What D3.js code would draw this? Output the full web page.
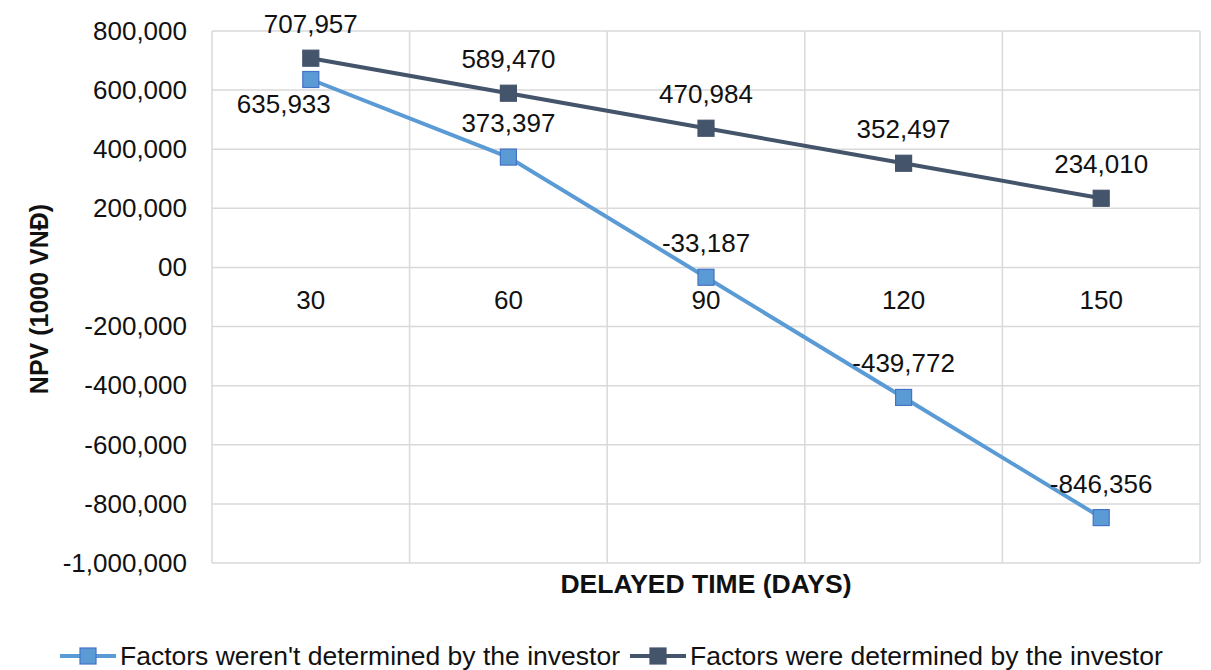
<!DOCTYPE html>
<html>
<head>
<meta charset="utf-8">
<script src="https://cdn.jsdelivr.net/npm/d3@7"></script>
<style>
  html, body { margin: 0; padding: 0; background: #fff; }
  svg { display: block; font-family: "Liberation Sans", Arial, sans-serif; }
</style>
</head>
<body>
<svg id="chart" width="1211" height="670"></svg>
<script>
// Delay in days
const categories = ["30", "60", "90", "120", "150"];
// NPV (1000 VNĐ)
const notDetermined = [635933, 373397, -33187, -439772, -846356];
const determined = [707957, 589470, 470984, 352497, 234010];
const seriesNames = [
  "Factors weren't determined by the investor",
  "Factors were determined by the investor"
];
const yTickValues = [800000, 600000, 400000, 200000, 0, -200000, -400000, -600000, -800000, -1000000];
const yTickLabels = ["800,000", "600,000", "400,000", "200,000", "00", "-200,000", "-400,000", "-600,000", "-800,000", "-1,000,000"];

const svg = d3.select("#chart");
const plot = { left: 212, right: 1200, top: 31, bottom: 563 };

const x = d3.scaleBand().domain(categories).range([plot.left, plot.right]).padding(0);
const y = d3.scaleLinear().domain([-1000000, 800000]).range([plot.bottom, plot.top]);
const cx = c => x(c) + x.bandwidth() / 2;

// plain hyphen for negatives
const fmt = d3.formatLocale({ decimal: ".", thousands: ",", grouping: [3], currency: ["", ""], minus: "-" }).format(",");

const gridColor = "#d9d9d9";
const colors = { light: "#5b9bd5", lightEdge: "#4472c4", dark: "#44546a" };
const fontSize = 26;
const textColor = "#111";

// horizontal gridlines
svg.append("g").selectAll("line").data(yTickValues).join("line")
  .attr("x1", plot.left).attr("x2", plot.right)
  .attr("y1", d => y(d)).attr("y2", d => y(d))
  .attr("stroke", gridColor).attr("stroke-width", 1.5);

// vertical gridlines at band edges
const edges = categories.map(c => x(c)).concat([plot.right]);
svg.append("g").selectAll("line").data(edges).join("line")
  .attr("x1", d => d).attr("x2", d => d)
  .attr("y1", plot.top).attr("y2", plot.bottom)
  .attr("stroke", gridColor).attr("stroke-width", 1.5);

// y axis labels
const yAxis = d3.axisLeft(y).tickValues(yTickValues)
  .tickFormat((d, i) => yTickLabels[i]).tickSize(0).tickPadding(25);
const yg = svg.append("g").attr("transform", `translate(${plot.left},0)`).call(yAxis);
yg.select(".domain").remove();
yg.selectAll("text").attr("font-size", fontSize).attr("fill", textColor)
  .attr("font-family", "Liberation Sans, Arial, sans-serif");

// category labels sit on the zero line
const xAxis = d3.axisBottom(x).tickSize(0).tickPadding(23);
const xg = svg.append("g").attr("transform", `translate(0,${y(0)})`).call(xAxis);
xg.select(".domain").remove();
xg.selectAll("text").attr("font-size", fontSize).attr("fill", textColor)
  .attr("font-family", "Liberation Sans, Arial, sans-serif");

// axis titles
svg.append("text")
  .attr("x", (plot.left + plot.right) / 2).attr("y", 593)
  .attr("text-anchor", "middle").attr("font-size", 26.5).attr("font-weight", "bold")
  .attr("fill", textColor).text("DELAYED TIME (DAYS)");
svg.append("text")
  .attr("transform", `translate(48,${(plot.top + plot.bottom) / 2 + 2}) rotate(-90)`)
  .attr("text-anchor", "middle").attr("font-size", 25).attr("font-weight", "bold")
  .attr("fill", textColor).text("NPV (1000 VNĐ)");

const line = d3.line().x((d, i) => cx(categories[i])).y(d => y(d));
const markerSize = 16;

function drawSeries(values, stroke, fill, edge, labelPlacer) {
  const g = svg.append("g");
  g.append("path").datum(values).attr("d", line)
    .attr("fill", "none").attr("stroke", stroke).attr("stroke-width", 4)
    .attr("stroke-linejoin", "round");
  g.selectAll("rect").data(values).join("rect")
    .attr("x", (d, i) => cx(categories[i]) - markerSize / 2)
    .attr("y", d => y(d) - markerSize / 2)
    .attr("width", markerSize).attr("height", markerSize)
    .attr("fill", fill).attr("stroke", edge).attr("stroke-width", 1.2);
  g.selectAll("text").data(values).join("text")
    .each(function (d, i) {
      const p = labelPlacer(d, i);
      d3.select(this).attr("x", p.x).attr("y", p.y);
    })
    .attr("text-anchor", "middle").attr("font-size", fontSize).attr("fill", textColor)
    .text(d => fmt(d));
}

drawSeries(notDetermined, colors.light, colors.light, colors.lightEdge, (d, i) => {
  const px = cx(categories[i]), py = y(d);
  // first label sits below-left to clear the other series
  if (i === 0) return { x: px - 27, y: py + 34 };
  return { x: px, y: py - 25 };
});
drawSeries(determined, colors.dark, colors.dark, colors.dark, (d, i) => {
  const px = cx(categories[i]), py = y(d);
  return { x: px, y: py - 25 };
});

// legend
const legend = svg.append("g").attr("transform", "translate(0,656)");
const legendItems = [
  { name: seriesNames[0], x0: 60, stroke: colors.light, fill: colors.light, edge: colors.lightEdge },
  { name: seriesNames[1], x0: 630, stroke: colors.dark, fill: colors.dark, edge: colors.dark }
];
legendItems.forEach(it => {
  legend.append("line").attr("x1", it.x0).attr("x2", it.x0 + 56).attr("y1", 0).attr("y2", 0)
    .attr("stroke", it.stroke).attr("stroke-width", 4);
  legend.append("rect").attr("x", it.x0 + 28 - markerSize / 2).attr("y", -markerSize / 2)
    .attr("width", markerSize).attr("height", markerSize)
    .attr("fill", it.fill).attr("stroke", it.edge).attr("stroke-width", 1.2);
  legend.append("text").attr("x", it.x0 + 60).attr("y", 9)
    .attr("font-size", 26.5).attr("fill", textColor).text(it.name);
});
</script>
</body>
</html>
